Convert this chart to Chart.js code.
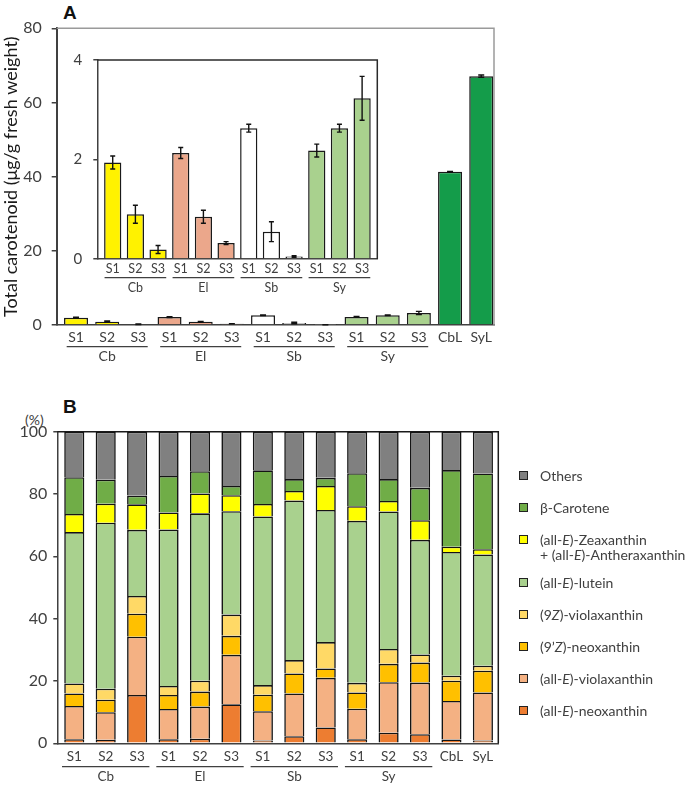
<!DOCTYPE html>
<html>
<head>
<meta charset="utf-8">
<script src="https://cdn.jsdelivr.net/npm/chart.js@4.4.1/dist/chart.umd.min.js"></script>
<style>
    body { margin: 0; background: #fff; width: 685px; height: 785px; overflow: hidden; position: relative; font-family: Lato, sans-serif; }
    canvas { position: absolute; }
    #chartA { left: 0; top: 0; }
    #inset { left: 60px; top: 40px; }
    #chartB { left: 0; top: 390px; }
    .panel { position: absolute; font: bold 19px "Liberation Sans", Arial, sans-serif; color: #111; }
    .pct { position: absolute; left: 25px; top: 411px; font-size: 14px; color: #404040; }
    #legend { position: absolute; left: 0; top: 0; }
    .row { position: absolute; left: 540px; font-size: 14px; color: #404040; line-height: 15px; white-space: nowrap; }
    .sw { position: absolute; left: 519px; width: 7px; height: 7px; border: 1px solid #222; }
</style>
</head>
<body>
<div class="panel" style="left:63px;top:2px;">A</div>
<div class="panel" style="left:63px;top:396px;">B</div>
<div class="pct">(%)</div>
<canvas id="chartA" width="685" height="385"></canvas>
<canvas id="inset" width="325" height="260"></canvas>
<canvas id="chartB" width="685" height="395"></canvas>
<div id="legend"></div>

<script>
// Categories
const samples = ['S1', 'S2', 'S3'];
const species = ['Cb', 'El', 'Sb', 'Sy'];
const leaves = ['CbL', 'SyL'];
const categories = species.flatMap(() => samples).concat(leaves);

// Panel A: total carotenoid (ug/g fresh weight), mean and SD
const totalMean = [1.94, 0.90, 0.19, 2.13, 0.85, 0.32, 2.63, 0.55, 0.05, 2.18, 2.63, 3.23, 41.3, 67.1];
const totalSD = [0.13, 0.18, 0.08, 0.11, 0.13, 0.03, 0.08, 0.20, 0.015, 0.13, 0.08, 0.44, 0.1, 0.3];
const ticksA = [0, 20, 40, 60, 80];
const ticksInset = [0, 2, 4];

// Panel B: composition (%), bottom to top of each stack
const ticksB = [0, 20, 40, 60, 80, 100];
const neoxanthinE = [1.3, 1.1, 15.5, 1.3, 1.5, 12.5, 0.9, 2.3, 5.1, 1.3, 3.4, 2.9, 1.2, 0.9];
const violaxanthinE = [10.7, 8.9, 18.7, 9.7, 10.3, 15.9, 9.4, 13.7, 15.9, 9.8, 16.2, 16.6, 12.4, 15.4];
const neoxanthin9Z = [4.0, 4.0, 7.4, 4.5, 4.8, 6.1, 5.3, 6.4, 3.0, 5.2, 5.9, 6.4, 6.5, 7.0];
const violaxanthin9Z = [3.2, 3.5, 5.7, 2.9, 3.5, 6.8, 3.1, 4.3, 8.5, 3.1, 4.8, 2.6, 1.6, 1.6];
const luteinE = [48.6, 53.3, 21.2, 50.2, 53.7, 33.2, 54.1, 51.2, 42.4, 52.0, 44.1, 36.8, 39.7, 35.7];
const zeaxanthinE = [5.8, 6.1, 8.2, 5.5, 6.4, 5.1, 4.0, 3.1, 7.7, 4.7, 3.4, 6.3, 1.7, 1.7];
const betaCarotene = [11.8, 7.7, 2.8, 11.7, 7.1, 3.0, 10.8, 3.8, 2.6, 10.6, 7.0, 10.4, 24.6, 24.3];
const others = [14.6, 15.4, 20.5, 14.2, 12.7, 17.4, 12.4, 15.2, 14.8, 13.3, 15.2, 18.0, 12.3, 13.4];

const pigmentNames = [
    '(all-E)-neoxanthin', '(all-E)-violaxanthin', '(9’Z)-neoxanthin', '(9Z)-violaxanthin',
    '(all-E)-lutein', '(all-E)-Zeaxanthin\n+ (all-E)-Antheraxanthin', 'β-Carotene', 'Others'
];
const pigmentValues = [neoxanthinE, violaxanthinE, neoxanthin9Z, violaxanthin9Z, luteinE, zeaxanthinE, betaCarotene, others];

// Styles
const groupColors = ['#FFF200', '#EBA78B', '#FFFFFF', '#A9D18E'];
const leafColor = '#149C4A';
const barColorsA = species.flatMap(c => samples.map(() => groupColors[species.indexOf(c)])).concat(leaves.map(() => leafColor));
const pigmentColors = ['#ED7D31', '#F4B183', '#FFC000', '#FFD966', '#A9D18E', '#FFFF00', '#70AD47', '#808080'];
const TEXT = '#404040';
const AXIS = '#404040';

const toPoints = arr => arr.map((v, i) => ({ x: i, y: v }));

/**
 * Draws the sample labels, group underlines and group names under the x axis
 */
function xLabelsPlugin(cfg) {
    return {
        id: 'xLabels',
        afterDraw(chart) {
            const { ctx, chartArea } = chart;
            const xs = chart.scales.x;
            const pitch = xs.getPixelForValue(1) - xs.getPixelForValue(0);
            const y0 = chartArea.bottom;
            ctx.save();
            ctx.fillStyle = TEXT;
            ctx.strokeStyle = TEXT;
            ctx.lineWidth = 1.3;
            ctx.textAlign = 'center';
            ctx.textBaseline = 'middle';
            ctx.font = cfg.size + 'px Lato';
            cfg.labels.forEach((l, i) => ctx.fillText(l, xs.getPixelForValue(i), y0 + cfg.labelY));
            species.forEach((g, k) => {
                const a = xs.getPixelForValue(3 * k) - cfg.ext * pitch;
                const b = xs.getPixelForValue(3 * k + 2) + cfg.ext * pitch;
                ctx.beginPath();
                ctx.moveTo(a, y0 + cfg.lineY);
                ctx.lineTo(b, y0 + cfg.lineY);
                ctx.stroke();
                ctx.fillText(g, (a + b) / 2, y0 + cfg.groupY);
            });
            ctx.restore();
        }
    };
}

/**
 * Top and right edges of the plot area
 */
function framePlugin(color, width) {
    return {
        id: 'frame',
        beforeDatasetsDraw(chart) {
            const { ctx, chartArea: { left, top, right, bottom } } = chart;
            ctx.save();
            ctx.strokeStyle = color;
            ctx.lineWidth = width;
            ctx.beginPath();
            ctx.moveTo(left, top);
            ctx.lineTo(right, top);
            ctx.lineTo(right, bottom);
            ctx.stroke();
            ctx.restore();
        }
    };
}

/**
 * Error bars (mean +/- SD) on the first dataset
 */
function errorBarPlugin(sd, cap) {
    return {
        id: 'errorBars',
        afterDatasetsDraw(chart) {
            const ctx = chart.ctx;
            const ys = chart.scales.y;
            const data = chart.data.datasets[0].data;
            ctx.save();
            ctx.strokeStyle = '#111';
            ctx.lineWidth = 1.4;
            chart.getDatasetMeta(0).data.forEach((bar, i) => {
                const v = data[i].y;
                const t = ys.getPixelForValue(v + sd[i]);
                const b = ys.getPixelForValue(Math.max(0, v - sd[i]));
                ctx.beginPath();
                ctx.moveTo(bar.x, t); ctx.lineTo(bar.x, b);
                ctx.moveTo(bar.x - cap, t); ctx.lineTo(bar.x + cap, t);
                ctx.moveTo(bar.x - cap, b); ctx.lineTo(bar.x + cap, b);
                ctx.stroke();
            });
            ctx.restore();
        }
    };
}

function indexAxis(min, max, height, stacked) {
    return {
        type: 'linear',
        offset: false,
        min: min,
        max: max,
        stacked: !!stacked,
        ticks: { display: false, stepSize: 1, includeBounds: false, maxTicksLimit: 50 },
        grid: { display: false, offset: false },
        border: { display: true, color: AXIS, width: 1.5 },
        afterFit: s => { s.height = height; }
    };
}

function valueAxis(ticks, width, fontSize, pad, tickLen, borderWidth, stacked) {
    return {
        min: ticks[0],
        max: ticks[ticks.length - 1],
        stacked: !!stacked,
        ticks: { stepSize: ticks[1] - ticks[0], color: TEXT, padding: pad, font: { family: 'Lato', size: fontSize } },
        grid: { drawOnChartArea: false, drawTicks: true, tickLength: tickLen, color: AXIS, lineWidth: 1.5 },
        border: { display: true, color: AXIS, width: borderWidth },
        afterFit: s => { s.width = width; }
    };
}

const common = {
    responsive: false,
    animation: false,
    events: [],
    plugins: { legend: { display: false }, tooltip: { enabled: false } }
};

// Panel A, main axes
const yA = valueAxis(ticksA, 56.7, 16, 10, 5, 2);
yA.title = {
    display: true,
    text: 'Total carotenoid (μg/g fresh weight)',
    color: '#1a1a1a',
    font: { family: 'Lato', size: 18 },
    padding: { top: 0, bottom: 0 }
};
new Chart(document.getElementById('chartA'), {
    type: 'bar',
    data: {
        datasets: [{
            data: toPoints(totalMean),
            backgroundColor: barColorsA,
            borderColor: '#1a1a1a',
            borderWidth: 1.5,
            barPercentage: 0.77,
            categoryPercentage: 1
        }]
    },
    options: Object.assign({}, common, {
        layout: { padding: { top: 28.3, right: 191, bottom: 0, left: 0 } },
        scales: {
            x: indexAxis(-0.62, 13.41, 60),
            y: yA
        }
    }),
    plugins: [
        framePlugin('#9a9a9a', 1.5),
        errorBarPlugin(totalSD, 3),
        xLabelsPlugin({ labels: categories, size: 14, labelY: 12.7, lineY: 21.7, groupY: 31.7, ext: 0.3 })
    ]
});

// Panel A, inset (field samples only)
const insetCount = species.length * samples.length;
new Chart(document.getElementById('inset'), {
    type: 'bar',
    data: {
        datasets: [{
            data: toPoints(totalMean.slice(0, insetCount)),
            backgroundColor: barColorsA.slice(0, insetCount),
            borderColor: '#1a1a1a',
            borderWidth: 1.5,
            barPercentage: 0.76,
            categoryPercentage: 1
        }]
    },
    options: Object.assign({}, common, {
        layout: { padding: { top: 17.3, right: 7.7, bottom: 0, left: 0 } },
        scales: {
            x: indexAxis(-0.68, 11.67, 41),
            y: valueAxis(ticksInset, 37.3, 15, 11, 4, 1.5)
        }
    }),
    plugins: [
        framePlugin('#2a2a2a', 1.5),
        errorBarPlugin(totalSD.slice(0, insetCount), 2.5),
        xLabelsPlugin({ labels: categories.slice(0, insetCount), size: 12.5, labelY: 10.3, lineY: 18.7, groupY: 29.3, ext: 0.36 })
    ]
});

// Panel B, stacked composition
new Chart(document.getElementById('chartB'), {
    type: 'bar',
    data: {
        datasets: pigmentValues.map((vals, k) => ({
            label: pigmentNames[k],
            data: toPoints(vals),
            backgroundColor: pigmentColors[k],
            borderColor: '#141414',
            borderWidth: 1.6,
            barPercentage: 0.64,
            categoryPercentage: 1
        }))
    },
    options: Object.assign({}, common, {
        layout: { padding: { top: 41.7, right: 186.7, bottom: 0, left: 0 } },
        scales: {
            x: indexAxis(-0.54, 13.49, 41.7, true),
            y: valueAxis(ticksB, 57.3, 16, 6, 4, 1.5, true)
        }
    }),
    plugins: [
        framePlugin('#1a1a1a', 1.5),
        xLabelsPlugin({ labels: categories, size: 13.5, labelY: 13.4, lineY: 23.4, groupY: 33.4, ext: 0.39 })
    ]
});

// Legend for panel B (top entry = top of stack)
const legend = document.getElementById('legend');
const italicize = s => s.replace(/(all-|9’?)(E|Z)\)/g, '$1<i>$2</i>)');
pigmentNames.slice().reverse().forEach((name, i) => {
    const color = pigmentColors[pigmentColors.length - 1 - i];
    const centre = 475 + 32 * i + (i >= 3 ? 11.5 : 0);
    const sw = document.createElement('div');
    sw.className = 'sw';
    sw.style.top = (centre - 4.5) + 'px';
    sw.style.background = color;
    const row = document.createElement('div');
    row.className = 'row';
    row.style.top = (centre - 7.5) + 'px';
    row.innerHTML = name.split('\n').map(italicize).join('<br>');
    legend.appendChild(sw);
    legend.appendChild(row);
});
</script>
</body>
</html>
